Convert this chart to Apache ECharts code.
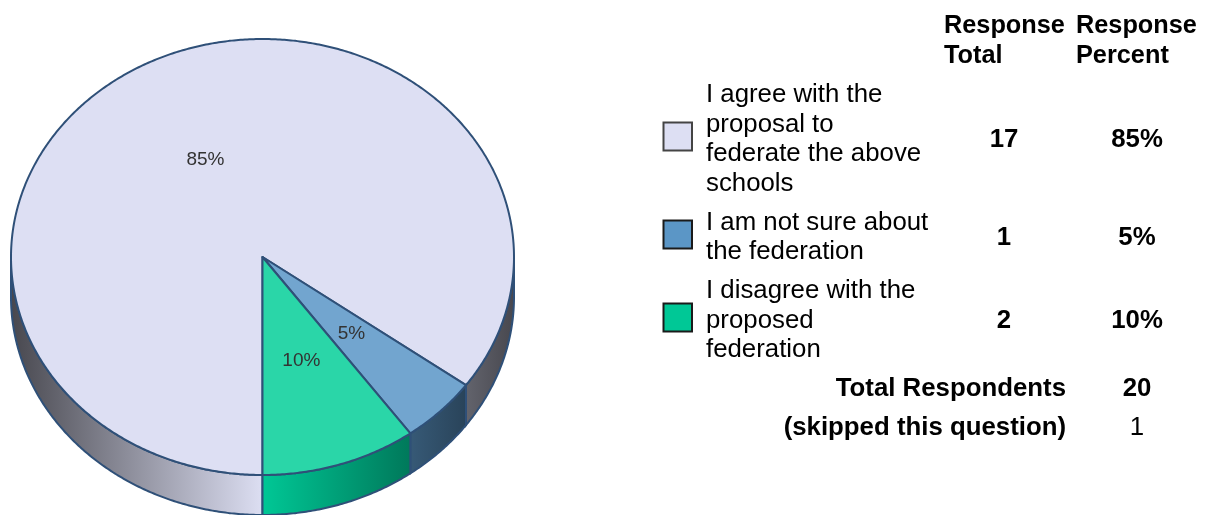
<!DOCTYPE html>
<html>
<head>
<meta charset="utf-8">
<style>html,body{margin:0;padding:0;background:#fff}#c{width:1215px;height:515px}</style>
<script src="https://cdn.jsdelivr.net/npm/echarts@6/dist/echarts.min.js"></script>
</head>
<body>
<div id="c"></div>
<script>
const categories = ["I agree with the\nproposal to\nfederate the above\nschools", "I am not sure about\nthe federation", "I disagree with the\nproposed\nfederation"];
const responseTotal = [17, 1, 2];
const responsePercent = [85, 5, 10];
const totalRespondents = 20;
const skippedQuestion = 1;

const topColors = ["#dddff3", "#72a5cf", "#2ad6a8"];
const wallColors = ["#dddff3", "#5b96c6", "#00c896"];
const edge = "#2f5078";
const FONT = '"Liberation Sans", Arial, sans-serif';
const FS = 25.8;
const FS_HEAD = 25.3;

const P = {cx: 262.5, cy: 257, rx: 251.5, ry: 218, depth: 40};
const rad = d => d * Math.PI / 180;
const pt = (deg, dy) => [P.cx - Math.sin(rad(deg)) * P.rx, P.cy + Math.cos(rad(deg)) * P.ry + (dy || 0)];
const sum = responsePercent.reduce((a, b) => a + b, 0);

function arc(a, b, dy) {
  const out = [], n = Math.max(2, Math.ceil(Math.abs(b - a) * 2));
  for (let i = 0; i <= n; i++) out.push(pt(a + (b - a) * i / n, dy));
  return out;
}
function shade(hex, deg) {
  const f = 1 - 0.68 * Math.abs(Math.sin(rad(deg)));
  const v = [1, 3, 5].map(i => Math.round(parseInt(hex.substr(i, 2), 16) * f));
  return "rgb(" + v.join(",") + ")";
}
function wall(a, b, color) {
  const pts = arc(a, b, 0).concat(arc(b, a, P.depth));
  const dA = pt(a)[0] < pt(b)[0] ? a : b;
  const dB = dA === a ? b : a;
  return {
    type: "polygon",
    shape: {points: pts},
    style: {
      fill: {type: "linear", x: 0, y: 0, x2: 1, y2: 0,
        colorStops: [{offset: 0, color: shade(color, dA)}, {offset: 1, color: shade(color, dB)}]},
      stroke: edge, lineWidth: 2
    }
  };
}

function renderItem(params, api) {
  const i = params.dataIndex;
  let start = 0;
  for (let k = 0; k < i; k++) start += responsePercent[k];
  const a = start / sum * 360;
  const b = (start + api.value(0)) / sum * 360;
  const children = [];
  const ranges = [[0, 90], [270, 360]];
  ranges.forEach(r => {
    const s = Math.max(a, r[0]), e = Math.min(b, r[1]);
    if (e > s) children.push(wall(s, e, wallColors[i]));
  });
  children.push({
    type: "polygon",
    shape: {points: [[P.cx, P.cy]].concat(arc(a, b, 0))},
    style: {fill: topColors[i], stroke: edge, lineWidth: 2, lineJoin: "round"}
  });
  const m = (a + b) / 2;
  const lp = [P.cx - Math.sin(rad(m)) * P.rx * 0.5, P.cy + Math.cos(rad(m)) * P.ry * 0.5];
  children.push({
    type: "text", z2: 10,
    style: {x: lp[0], y: lp[1], text: api.value(0) + "%", fill: "#333", align: "center", verticalAlign: "middle",
      font: '19px "Liberation Sans", Arial, sans-serif'}
  });
  return {type: "group", children};
}

const gfx = [];
function txt(x, y, text, align, bold, size) {
  gfx.push({type: "text", x, y, style: {text, fill: "#000", align: align, verticalAlign: "middle", lineHeight: 29.5,
    font: (bold ? "bold " : "") + (size || FS) + "px " + FONT}});
}
txt(944, 41, "Response\nTotal", "left", true, FS_HEAD);
txt(1076, 41, "Response\nPercent", "left", true, FS_HEAD);

const rowY = [139.5, 237.5, 320.5];
const swatchY = [122.5, 220.5, 303.5];
categories.forEach((c, i) => {
  txt(706, rowY[i], c, "left", false);
  gfx.push({type: "rect", shape: {x: 663.5, y: swatchY[i], width: 28.5, height: 28},
    style: {fill: wallColors[i], stroke: i === 0 ? "#444" : "#1a1a1a", lineWidth: 2}});
  txt(1004, rowY[i], String(responseTotal[i]), "center", true);
  txt(1137, rowY[i], responsePercent[i] + "%", "center", true);
});
txt(1066, 389, "Total Respondents", "right", true);
txt(1137, 389, String(totalRespondents), "center", true);
txt(1066, 428, "(skipped this question)", "right", true);
txt(1137, 428, String(skippedQuestion), "center", false);

const chart = echarts.init(document.getElementById("c"), null, {renderer: "canvas"});
chart.setOption({
  animation: false,
  backgroundColor: "#fff",
  series: [{
    type: "custom",
    coordinateSystem: "none",
    renderItem,
    data: responsePercent.map((v, i) => ({name: categories[i].replace(/\n/g, " "), value: [v]})),
    encode: {value: 0},
    silent: true,
    clip: false
  }],
  graphic: gfx
});
</script>
</body>
</html>
